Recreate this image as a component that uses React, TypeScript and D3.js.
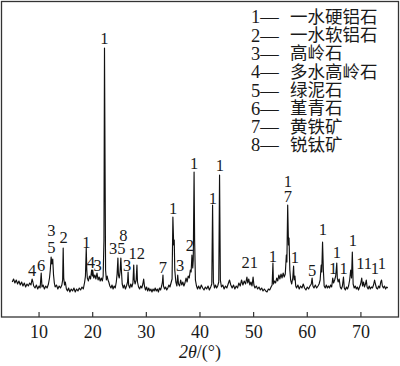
import React from "react";
import { scaleLinear, line } from "d3";

const W = 400;
const H = 366;

// XRD scan, [2θ (°), intensity (a.u.)]
const scan5to20: [number, number][] = [
  [5.0, 18], [5.25, 21], [5.5, 17], [5.75, 20], [6.0, 16], [6.25, 19], [6.5, 15], [6.75, 18],
  [7.0, 14], [7.25, 17], [7.5, 13], [7.75, 16], [8.0, 14], [8.25, 17], [8.5, 15], [8.7, 21],
  [8.85, 18], [9.0, 14], [9.25, 12], [9.5, 15], [9.75, 11], [10.0, 14], [10.2, 12], [10.4, 27],
  [10.55, 13], [10.75, 15], [11.0, 11], [11.25, 14], [11.5, 12], [11.75, 16], [11.95, 22],
  [12.1, 30], [12.25, 43], [12.4, 36], [12.55, 41], [12.7, 25], [12.85, 17], [13.0, 13],
  [13.25, 15], [13.5, 11], [13.75, 14], [14.0, 12], [14.25, 15], [14.4, 20], [14.5, 52],
  [14.6, 22], [14.75, 15], [14.9, 18], [15.1, 11], [15.3, 9], [15.5, 12], [15.75, 8],
  [16.0, 11], [16.25, 9], [16.5, 12], [16.75, 8], [17.0, 11], [17.25, 9], [17.5, 12],
  [17.75, 10], [18.0, 13], [18.25, 11], [18.5, 18], [18.65, 24], [18.8, 52], [18.9, 30],
  [19.0, 22], [19.2, 19], [19.4, 24], [19.6, 21], [19.8, 30], [19.95, 24],
];

const scan20to40: [number, number][] = [
  [20.0, 30], [20.2, 22], [20.4, 25], [20.6, 21], [20.8, 27], [21.0, 20], [21.2, 23], [21.4, 19],
  [21.6, 22], [21.8, 19], [21.95, 24], [22.1, 60], [22.2, 252], [22.3, 140], [22.4, 30],
  [22.55, 20], [22.7, 24], [22.85, 20], [23.0, 18], [23.2, 14], [23.4, 12], [23.6, 15],
  [23.8, 11], [24.0, 14], [24.2, 12], [24.4, 18], [24.55, 26], [24.7, 42], [24.8, 25],
  [24.95, 22], [25.1, 28], [25.25, 42], [25.35, 30], [25.5, 16], [25.7, 12], [25.9, 15],
  [26.1, 11], [26.3, 14], [26.5, 18], [26.6, 28], [26.7, 15], [26.9, 12], [27.1, 16],
  [27.3, 13], [27.5, 17], [27.65, 35], [27.75, 20], [27.9, 16], [28.1, 20], [28.25, 35],
  [28.35, 18], [28.55, 13], [28.75, 11], [28.95, 14], [29.15, 12], [29.35, 16], [29.5, 21],
  [29.65, 14], [29.85, 10], [30.05, 13], [30.25, 9], [30.45, 12], [30.65, 9], [30.85, 11],
  [31.05, 8], [31.25, 11], [31.45, 9], [31.65, 12], [31.85, 9], [32.05, 11], [32.25, 8],
  [32.45, 12], [32.65, 10], [32.85, 14], [33.0, 18], [33.1, 25], [33.2, 14], [33.4, 11],
  [33.6, 13], [33.8, 10], [34.0, 12], [34.2, 15], [34.4, 13], [34.6, 17], [34.8, 21],
  [34.95, 83], [35.1, 55], [35.2, 60], [35.3, 30], [35.5, 18], [35.7, 14], [35.85, 25],
  [36.0, 16], [36.2, 14], [36.4, 20], [36.6, 15], [36.8, 18], [37.0, 14], [37.2, 17],
  [37.4, 22], [37.6, 18], [37.8, 24], [38.0, 22], [38.2, 30], [38.35, 28], [38.5, 45],
  [38.65, 32], [38.75, 40], [38.9, 128], [39.0, 60], [39.15, 20], [39.35, 14], [39.55, 11],
  [39.75, 14],
];

const scan40to60: [number, number][] = [
  [40.0, 11], [40.25, 15], [40.5, 12], [40.75, 10], [41.0, 13], [41.25, 11], [41.5, 14],
  [41.75, 10], [42.0, 13], [42.2, 16], [42.35, 95], [42.5, 18], [42.7, 12], [42.9, 15],
  [43.1, 12], [43.3, 14], [43.5, 18], [43.65, 125], [43.8, 20], [44.0, 13], [44.25, 15],
  [44.5, 11], [44.75, 14], [45.0, 12], [45.25, 16], [45.5, 20], [45.75, 15], [46.0, 12],
  [46.25, 15], [46.5, 11], [46.75, 14], [47.0, 12], [47.25, 17], [47.5, 14], [47.75, 20],
  [48.0, 15], [48.25, 19], [48.5, 16], [48.75, 23], [48.9, 17], [49.1, 21], [49.3, 15],
  [49.5, 18], [49.7, 14], [49.9, 23], [50.05, 15], [50.25, 12], [50.5, 14], [50.75, 11],
  [51.0, 13], [51.25, 10], [51.5, 12], [51.75, 9], [52.0, 11], [52.25, 9], [52.5, 8],
  [52.75, 11], [53.0, 10], [53.25, 13], [53.45, 15], [53.6, 37], [53.7, 16], [53.9, 19],
  [54.1, 17], [54.3, 22], [54.5, 19], [54.7, 25], [54.9, 21], [55.1, 26], [55.3, 22],
  [55.5, 27], [55.7, 23], [55.9, 26], [56.1, 45], [56.2, 38], [56.35, 95], [56.5, 55],
  [56.6, 62], [56.75, 30], [56.9, 20], [57.1, 16], [57.3, 22], [57.45, 34], [57.55, 20],
  [57.7, 24], [57.85, 14], [58.0, 12], [58.25, 15], [58.5, 11], [58.75, 14], [59.0, 12],
  [59.25, 16], [59.5, 12], [59.75, 10],
];

const scan60to75: [number, number][] = [
  [60.0, 13], [60.25, 11], [60.5, 14], [60.75, 16], [60.9, 22], [61.05, 14], [61.25, 12],
  [61.5, 15], [61.75, 12], [62.0, 14], [62.2, 16], [62.4, 20], [62.6, 35], [62.7, 28],
  [62.85, 58], [63.0, 30], [63.15, 14], [63.35, 12], [63.55, 15], [63.75, 12], [63.95, 14],
  [64.15, 12], [64.35, 15], [64.55, 13], [64.75, 22], [64.9, 17], [65.1, 20], [65.3, 24],
  [65.5, 37], [65.6, 22], [65.75, 18], [65.95, 21], [66.15, 13], [66.35, 11], [66.55, 14],
  [66.75, 23], [66.9, 12], [67.1, 10], [67.3, 13], [67.5, 11], [67.7, 14], [67.9, 20],
  [68.1, 30], [68.25, 22], [68.4, 48], [68.55, 16], [68.75, 12], [68.95, 14], [69.15, 11],
  [69.35, 13], [69.55, 10], [69.75, 13], [69.95, 16], [70.15, 22], [70.3, 14], [70.5, 18],
  [70.65, 13], [70.85, 16], [71.0, 20], [71.15, 13], [71.35, 11], [71.55, 14], [71.75, 11],
  [71.95, 13], [72.15, 12], [72.35, 15], [72.55, 20], [72.7, 16], [72.9, 12], [73.1, 11],
  [73.3, 14], [73.5, 12], [73.7, 18], [73.85, 20], [74.0, 14], [74.2, 12], [74.4, 14],
  [74.6, 11], [74.8, 13], [75.0, 12],
];

const pattern = [...scan5to20, ...scan20to40, ...scan40to60, ...scan60to75];

// phase labels over peaks: [text, 2θ, intensity level]
const peakLabels: [string, number, number][] = [
  ["4", 8.7, 30], ["6", 10.4, 35], ["3", 12.3, 70], ["5", 12.3, 53], ["2", 14.6, 63],
  ["1", 18.8, 58], ["4", 19.65, 38], ["3", 20.9, 35], ["1", 22.2, 262],
  ["35", 24.6, 52], ["8", 25.7, 65], ["3", 26.4, 35], ["12", 28.2, 47], ["7", 33.1, 33],
  ["1", 35.0, 92], ["3", 36.3, 35], ["2", 38.1, 55], ["1", 38.9, 137],
  ["1", 42.4, 102], ["1", 43.7, 135], ["21", 49.3, 38], ["1", 53.6, 44],
  ["1", 56.4, 119], ["7", 56.4, 104], ["1", 57.7, 43], ["5", 60.9, 30], ["1", 62.9, 71],
  ["1", 64.8, 32], ["1", 65.5, 48], ["1", 66.8, 32], ["1", 68.5, 60], ["11", 70.6, 37],
  ["1", 72.6, 32], ["1", 73.9, 37],
];

const legendNumbers = ["1", "2", "3", "4", "5", "6", "7", "8"];
const legendMinerals = [
  "一水硬铝石", "一水软铝石", "高岭石", "多水高岭石", "绿泥石", "堇青石", "黄铁矿", "锐钛矿",
];

const xTicks = [10, 20, 30, 40, 50, 60, 70];

const serif = "'Liberation Serif', 'Times New Roman', serif";
const cjk = "'Noto Sans CJK SC', sans-serif";
const ink = "#1a1a1a";

export default function App() {
  const frame = { left: 1.5, top: 1.5, right: 398.5, bottom: 317 };

  const x = scaleLinear().domain([3, 77.1]).range([1.5, 399]);
  const y = scaleLinear().domain([0, 260]).range([300, 40]);

  const path = line<[number, number]>()
    .x((d) => x(d[0]))
    .y((d) => y(d[1]))(pattern);

  return (
    <div style={{ position: "absolute", left: 0, top: 0 }}>
      <svg width={W} height={H} style={{ display: "block", background: "#fff" }}>
        <rect
          x={frame.left}
          y={frame.top}
          width={frame.right - frame.left}
          height={frame.bottom - frame.top}
          fill="none"
          stroke="#333"
          strokeWidth={1.3}
        />

        {xTicks.map((t) => (
          <g key={t}>
            <line x1={x(t)} x2={x(t)} y1={frame.bottom} y2={frame.bottom - 5} stroke="#333" strokeWidth={1.2} />
            <text x={x(t)} y={338} textAnchor="middle" fontFamily={serif} fontSize={18} fill={ink}>
              {t}
            </text>
          </g>
        ))}

        <text x={200} y={358} textAnchor="middle" fontFamily={serif} fontSize={18} fill={ink}>
          <tspan fontStyle="italic">2θ</tspan>
          <tspan>/(°)</tspan>
        </text>

        <path d={path ?? ""} fill="none" stroke="#111" strokeWidth={1.15} strokeLinejoin="round" />

        {peakLabels.map(([t, th, lv], i) => (
          <text
            key={i}
            x={x(th)}
            y={y(lv)}
            dy="0.35em"
            textAnchor="middle"
            fontFamily={serif}
            fontSize={16.5}
            fill={ink}
          >
            {t}
          </text>
        ))}

        {legendNumbers.map((n, i) => (
          <g key={n}>
            <text x={251} y={23.3 + i * 18.3} fontFamily={serif} fontSize={18.5} fill={ink}>
              {n}—
            </text>
            <text x={290} y={22.8 + i * 18.3} fontFamily={cjk} fontSize={17.5} fill={ink}>
              {legendMinerals[i]}
            </text>
          </g>
        ))}
      </svg>
    </div>
  );
}
